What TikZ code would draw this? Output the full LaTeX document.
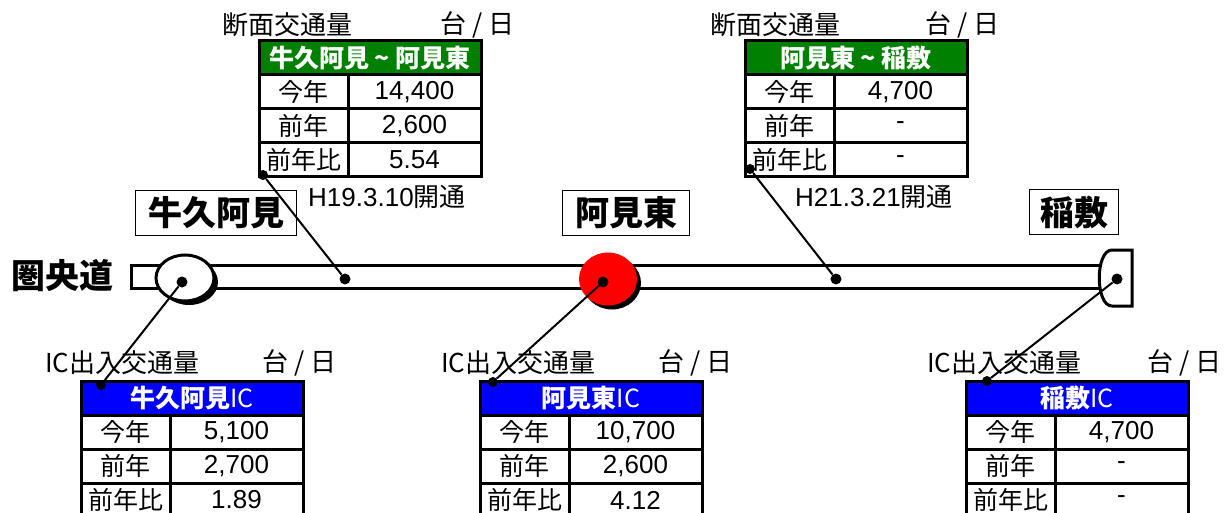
\documentclass[tikz,border=0pt]{standalone}
\usepackage{fontspec}
\setmainfont{Liberation Sans}
\newfontfamily\jp{Noto Sans CJK JP}
\usetikzlibrary{positioning,shapes.geometric,shadows}

\tikzset{
  cell/.style={draw,line width=3pt,inner sep=0pt,outer sep=0pt,minimum height=34pt,font=\fontsize{26}{28}\selectfont},
  namecell/.style={cell,minimum width=89pt,font=\jp\fontsize{25}{28}\selectfont},
  valcell/.style={cell,minimum width=133pt},
  headcell/.style={cell,minimum width=222pt,text=white,font=\jp\bfseries\fontsize{25}{28}\selectfont},
  title/.style={inner sep=0pt,font=\jp\fontsize{26}{28}\selectfont},
  place/.style={draw,line width=1.5pt,inner sep=0pt,minimum height=45pt,font=\jp\bfseries\fontsize{34}{36}\selectfont},
  ic/.style={ellipse,inner sep=0pt,minimum width=58pt,minimum height=46pt,line width=3pt,
    drop shadow={opacity=1,fill=black,shadow xshift=4pt,shadow yshift=-4pt}},
  spot/.style={circle,fill,inner sep=0pt,minimum size=11pt}
}

\begin{document}
\begin{tikzpicture}[x=1pt,y=-1pt]
      \useasboundingbox (0,0) rectangle (1228,513);

      \node[inner sep=0pt,font=\jp\bfseries\fontsize{34}{36}\selectfont] (ken) at (62,276) {圏央道};
      \draw[line width=3pt,fill=white] (131,265) rectangle (1106,288);
      \node[ic,draw,fill=white] (ic1) at (185,278) {};
      \node[ic,fill=red,minimum height=53pt] (ic2) at (608,279) {};
      \draw[line width=3pt,fill=white] (1132,250) -- (1112,250) .. controls (1095,250) and (1095,306) .. (1112,306) -- (1132,306) -- cycle;

      \node[spot] (ic1d) at (182,282) {};
      \node[spot] (ic2d) at (603,282) {};
      \node[spot] (ic3d) at (1117,279) {};
      \node[spot] (s1) at (345,279) {};
      \node[spot] (s2) at (836,279) {};

      \node[place,minimum width=161pt] (p1) at (216,213) {牛久阿見};
      \node[place,minimum width=127pt] (p2) at (626,213) {阿見東};
      \node[place,minimum width=89pt] (p3) at (1074,212) {稲敷};

      \node[title,anchor=west] (t1n) at (222,25) {断面交通量};
      \node[title,anchor=east] (t1u) at (515,25) {台 / 日};
      \node[headcell,fill=green!50!black,anchor=north west] (t1h) at (259,41) {牛久阿見 \textasciitilde{} 阿見東};
      \node[namecell,below right=0pt and 0pt of t1h.south west] (t1a) {今年};
      \node[valcell,right=0pt of t1a] (t1av) {14,400};
      \node[namecell,below=0pt of t1a] (t1b) {前年};
      \node[valcell,right=0pt of t1b] (t1bv) {2,600};
      \node[namecell,below=0pt of t1b] (t1c) {前年比};
      \node[valcell,right=0pt of t1c] (t1cv) {5.54};
      \node[title,anchor=west] (t1o) at (308,197) {{\rmfamily H19.3.10}開通};

      \node[title,anchor=west] (t2n) at (710,25) {断面交通量};
      \node[title,anchor=east] (t2u) at (1000,25) {台 / 日};
      \node[headcell,fill=green!50!black,anchor=north west] (t2h) at (745,41) {阿見東 \textasciitilde{} 稲敷};
      \node[namecell,below right=0pt and 0pt of t2h.south west] (t2a) {今年};
      \node[valcell,right=0pt of t2a] (t2av) {4,700};
      \node[namecell,below=0pt of t2a] (t2b) {前年};
      \node[valcell,right=0pt of t2b] (t2bv) {-};
      \node[namecell,below=0pt of t2b] (t2c) {前年比};
      \node[valcell,right=0pt of t2c] (t2cv) {-};
      \node[title,anchor=west] (t2o) at (795,197) {{\rmfamily H21.3.21}開通};

      \node[title,anchor=west] (t3n) at (45,363) {IC出入交通量};
      \node[title,anchor=east] (t3u) at (337,363) {台 / 日};
      \node[headcell,fill=blue,anchor=north west] (t3h) at (81,381) {牛久阿見{\mdseries IC}};
      \node[namecell,below right=0pt and 0pt of t3h.south west] (t3a) {今年};
      \node[valcell,right=0pt of t3a] (t3av) {5,100};
      \node[namecell,below=0pt of t3a] (t3b) {前年};
      \node[valcell,right=0pt of t3b] (t3bv) {2,700};
      \node[namecell,below=0pt of t3b] (t3c) {前年比};
      \node[valcell,right=0pt of t3c] (t3cv) {1.89};

      \node[title,anchor=west] (t4n) at (441,363) {IC出入交通量};
      \node[title,anchor=east] (t4u) at (733,363) {台 / 日};
      \node[headcell,fill=blue,anchor=north west] (t4h) at (480,381) {阿見東{\mdseries IC}};
      \node[namecell,below right=0pt and 0pt of t4h.south west] (t4a) {今年};
      \node[valcell,right=0pt of t4a] (t4av) {10,700};
      \node[namecell,below=0pt of t4a] (t4b) {前年};
      \node[valcell,right=0pt of t4b] (t4bv) {2,600};
      \node[namecell,below=0pt of t4b] (t4c) {前年比};
      \node[valcell,right=0pt of t4c] (t4cv) {4.12};

      \node[title,anchor=west] (t5n) at (927,363) {IC出入交通量};
      \node[title,anchor=east] (t5u) at (1222,363) {台 / 日};
      \node[headcell,fill=blue,anchor=north west] (t5h) at (966,381) {稲敷{\mdseries IC}};
      \node[namecell,below right=0pt and 0pt of t5h.south west] (t5a) {今年};
      \node[valcell,right=0pt of t5a] (t5av) {4,700};
      \node[namecell,below=0pt of t5a] (t5b) {前年};
      \node[valcell,right=0pt of t5b] (t5bv) {-};
      \node[namecell,below=0pt of t5b] (t5c) {前年比};
      \node[valcell,right=0pt of t5c] (t5cv) {-};

      \node[spot,minimum size=10pt] (c1) at (263,175) {};
      \node[spot,minimum size=10pt] (c2) at (750,169) {};
      \node[spot,minimum size=10pt] (c3) at (101,385) {};
      \node[spot,minimum size=10pt] (c4) at (493,382) {};
      \node[spot,minimum size=10pt] (c5) at (987,381) {};

      \path[line width=2pt]
      (s1) edge (c1)
      (s2) edge (c2)
      (ic1d) edge (c3)
      (ic2d) edge (c4)
      (ic3d) edge (c5)
      ;
    \end{tikzpicture}
\end{document}
